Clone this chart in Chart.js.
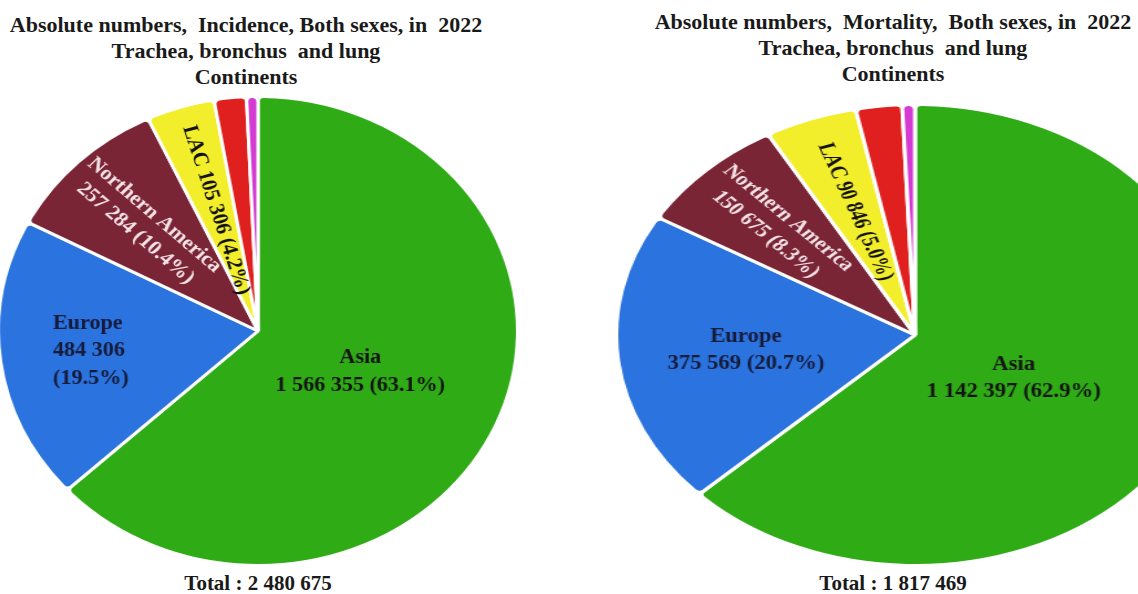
<!DOCTYPE html>
<html>
<head>
<meta charset="utf-8">
<script src="https://cdn.jsdelivr.net/npm/chart.js@4"></script>
<style>
  body { margin: 0; width: 1138px; height: 594px; overflow: hidden; background: #fff;
         font-family: "Liberation Serif", "Times New Roman", serif; color: #1a1a1a; }
  .title { position: absolute; text-align: center; font-weight: bold; font-size: 22px; line-height: 26px; white-space: pre; }
  .total { position: absolute; text-align: center; font-weight: bold; font-size: 21px; line-height: 24px; white-space: pre; }
  .pie { position: absolute; }
</style>
</head>
<body>
<div class="title" style="left:0;width:492px;top:12px">Absolute numbers,  Incidence, Both sexes, in  2022
Trachea, bronchus  and lung
Continents</div>
<div class="title" style="left:640px;width:506px;top:9px">Absolute numbers,  Mortality,  Both sexes, in  2022
Trachea, bronchus  and lung
Continents</div>

<div class="pie" id="leftBox" style="left:22px;top:95px;width:472px;height:472px;transform:scaleX(1.107)">
  <canvas id="incidenceChart"></canvas>
</div>
<div class="pie" id="rightBox" style="left:683px;top:103px;width:464px;height:464px;transform:scaleX(1.296)">
  <canvas id="mortalityChart"></canvas>
</div>

<div class="total" style="left:158px;width:200px;top:571px">Total : 2 480 675</div>
<div class="total" style="left:793px;width:200px;top:571px">Total : 1 817 469</div>

<script>
const categories = ["Asia", "Europe", "Northern America", "LAC", "Africa", "Oceania"];
const incidenceValues = [1566355, 484306, 257284, 105306, 49800, 17624];
const mortalityValues = [1142397, 375569, 150675, 90846, 45500, 12482];
const sliceColors = ["#2fab16", "#2b73de", "#7a2535", "#f3ee2c", "#e01f1f", "#d43bd2"];

const fmt = (n) => String(n).replace(/\B(?=(\d{3})+(?!\d))/g, " ");
const pct = (v, t) => (v / t * 100).toFixed(1) + "%";

// label lines for each slice (Africa / Oceania unlabelled)
function leftLines(i, v, t) {
  if (i === 0) return [categories[0], fmt(v) + " (" + pct(v, t) + ")"];
  if (i === 1) return [categories[1], fmt(v), "(" + pct(v, t) + ")"];
  if (i === 2) return [categories[2], fmt(v) + " (" + pct(v, t) + ")"];
  if (i === 3) return [categories[3] + " " + fmt(v) + " (" + pct(v, t) + ")"];
  return [];
}
function rightLines(i, v, t) {
  if (i === 3) return [categories[3] + " " + fmt(v) + " (" + pct(v, t) + ")"];
  if (i < 3) return [categories[i], fmt(v) + " (" + pct(v, t) + ")"];
  return [];
}

const sliceLabels = {
  id: "sliceLabels",
  afterDatasetsDraw(chart, args, opts) {
    const ctx = chart.ctx;
    const meta = chart.getDatasetMeta(0);
    const values = chart.data.datasets[0].data;
    const total = values.reduce((a, b) => a + b, 0);
    meta.data.forEach((arc, i) => {
      const spec = opts.specs[i];
      if (!spec) return;
      const p = arc.getProps(["x", "y", "startAngle", "endAngle", "outerRadius"], true);
      const mid = (p.startAngle + p.endAngle) / 2;
      const at = mid + (spec.turn || 0) * Math.PI / 180;
      const r = p.outerRadius * spec.r;
      const lines = opts.lines(i, values[i], total);
      ctx.save();
      ctx.font = "bold " + (spec.size || opts.size) + "px 'Liberation Serif'";
      ctx.fillStyle = spec.color;
      ctx.textBaseline = "middle";
      ctx.translate(p.x + Math.cos(at) * r, p.y + Math.sin(at) * r);
      if (spec.mode === "rot") ctx.rotate(mid + Math.PI + (spec.tilt || 0) * Math.PI / 180);
      ctx.scale(spec.squeeze || 1, 1);
      const lh = spec.lh || 25;
      const w = Math.max(...lines.map(l => ctx.measureText(l).width));
      ctx.textAlign = spec.mode === "left" ? "left" : "center";
      const x0 = spec.mode === "left" ? -w / 2 : 0;
      lines.forEach((l, k) => ctx.fillText(l, x0, (k - (lines.length - 1) / 2) * lh));
      ctx.restore();
    });
  }
};

function makePie(id, values, lines, size, specs) {
  return new Chart(document.getElementById(id), {
    type: "pie",
    data: {
      labels: categories,
      datasets: [{
        data: values,
        backgroundColor: sliceColors,
        borderColor: "#ffffff",
        borderWidth: 3,
        borderRadius: 5,
        hoverOffset: 0
      }]
    },
    options: {
      responsive: true,
      maintainAspectRatio: false,
      animation: false,
      layout: { padding: 0 },
      plugins: {
        legend: { display: false },
        tooltip: { enabled: false },
        sliceLabels: { lines: lines, size: size, specs: specs }
      }
    },
    plugins: [sliceLabels]
  });
}

makePie("incidenceChart", incidenceValues, leftLines, 20, [
  { mode: "center", r: 0.43, color: "#141414", lh: 28 },
  { mode: "left", r: 0.65, color: "#161b3a", lh: 27.5 },
  { mode: "rot", r: 0.63, color: "#f5e3e6", tilt: -3, lh: 25 },
  { mode: "rot", r: 0.54, color: "#111111", tilt: 1 }
]);

makePie("mortalityChart", mortalityValues, rightLines, 20.5, [
  { mode: "center", r: 0.38, turn: 6.5, color: "#141414", lh: 27, squeeze: 0.854 },
  { mode: "center", r: 0.57, color: "#161b3a", lh: 27, squeeze: 0.854 },
  { mode: "rot", r: 0.66, color: "#f5e3e6", tilt: 1, lh: 24, size: 18.8, squeeze: 0.93 },
  { mode: "rot", r: 0.57, color: "#111111", tilt: 1, size: 18.8, squeeze: 0.93 }
]);
</script>
</body>
</html>
